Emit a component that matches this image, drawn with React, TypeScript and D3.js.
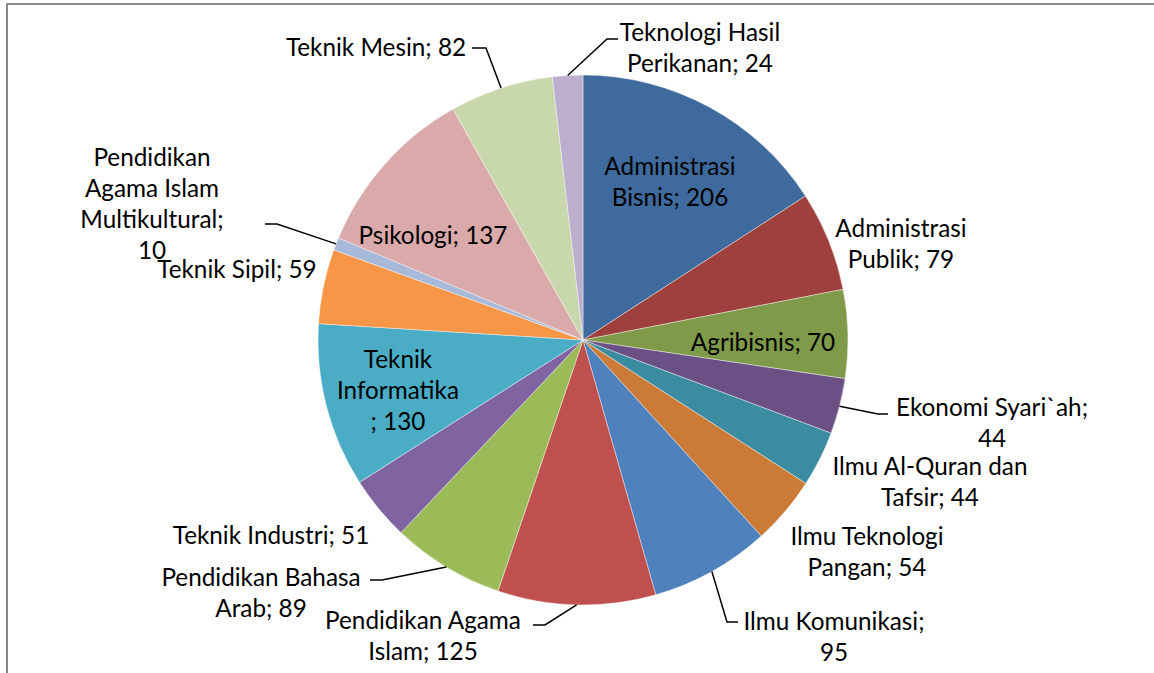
import React from "react";
import * as d3 from "d3";

const categories = [
  "Administrasi Bisnis",
  "Administrasi Publik",
  "Agribisnis",
  "Ekonomi Syari`ah",
  "Ilmu Al-Quran dan Tafsir",
  "Ilmu Teknologi Pangan",
  "Ilmu Komunikasi",
  "Pendidikan Agama Islam",
  "Pendidikan Bahasa Arab",
  "Teknik Industri",
  "Teknik Informatika",
  "Teknik Sipil",
  "Pendidikan Agama Islam Multikultural",
  "Psikologi",
  "Teknik Mesin",
  "Teknologi Hasil Perikanan",
];
const values = [206, 79, 70, 44, 44, 54, 95, 125, 89, 51, 130, 59, 10, 137, 82, 24];

const colors = [
  "#3F6A9D", "#9E413E", "#7F9A48", "#6A5085", "#3B8CA1", "#CC7A37",
  "#4F81BD", "#C0504D", "#9BBB59", "#8064A2", "#4BACC6", "#F79646",
  "#A7B9D9", "#D9AAA9", "#C9D7AC", "#BBAFCD",
];

// label text wrapping as in the reference
const labelLines: string[][] = [
  ["Administrasi", "Bisnis; 206"],
  ["Administrasi", "Publik; 79"],
  ["Agribisnis; 70"],
  ["Ekonomi Syari`ah;", "44"],
  ["Ilmu Al-Quran dan", "Tafsir; 44"],
  ["Ilmu Teknologi", "Pangan; 54"],
  ["Ilmu Komunikasi;", "95"],
  ["Pendidikan Agama", "Islam; 125"],
  ["Pendidikan Bahasa", "Arab; 89"],
  ["Teknik Industri; 51"],
  ["Teknik", "Informatika", "; 130"],
  ["Teknik Sipil; 59"],
  ["Pendidikan", "Agama Islam", "Multikultural;", "10"],
  ["Psikologi; 137"],
  ["Teknik Mesin; 82"],
  ["Teknologi Hasil", "Perikanan; 24"],
];

// layout: label block centers
const labelCenters: [number, number][] = [
  [670, 181], [901, 243], [763, 341], [992, 422], [930, 481], [867, 551],
  [834, 636], [423, 635], [261, 592], [271, 534], [398, 389], [237, 268],
  [152, 203], [433, 234], [376, 46], [700, 47],
];

// layout: leader line bends (from slice edge outward)
const leaders: { [k: number]: [number, number][] } = {
  3: [[878, 414], [888, 414]],
  6: [[727, 622], [738, 622]],
  7: [[545, 625], [533, 625]],
  8: [[382, 580], [370, 580]],
  12: [[277, 224], [265, 224]],
  14: [[486, 48], [472, 48]],
  15: [[607, 39], [618, 39]],
};

const W = 1154;
const H = 673;
const cx = 583;
const cy = 340;
const R = 265;
const fontSize = 24.3;
const lineH = 31;

export default function App() {
  const pie = d3.pie<number>().sort(null).value((d) => d);
  const arcs = pie(values);
  const arc = d3.arc<d3.PieArcDatum<number>>().innerRadius(0).outerRadius(R);

  return (
    <svg
      width={W}
      height={H}
      style={{ position: "absolute", left: 0, top: 0, background: "#fff" }}
      fontFamily="Lato, 'Open Sans', sans-serif"
    >
      <rect x={0} y={0} width={W} height={H} fill="#fff" />
      <rect x={7} y={4} width={W + 20} height={H + 20} fill="none" stroke="#898989" strokeWidth={2} />
      <g transform={`translate(${cx},${cy})`}>
        {arcs.map((a, i) => (
          <path key={i} d={arc(a) || ""} fill={colors[i]} stroke="#ffffff" strokeOpacity={0.5} strokeWidth={0.8} />
        ))}
      </g>
      {arcs.map((a, i) => {
        const pts = leaders[i];
        if (!pts) return null;
        const mid = (a.startAngle + a.endAngle) / 2;
        const sx = cx + R * Math.sin(mid);
        const sy = cy - R * Math.cos(mid);
        const line = d3.line()([[sx, sy], ...pts]);
        return <path key={"l" + i} d={line || ""} fill="none" stroke="#000" strokeWidth={1.5} />;
      })}
      {labelLines.map((lines, i) => {
        const [x, y] = labelCenters[i];
        const y0 = y - ((lines.length - 1) * lineH) / 2;
        return (
          <text key={"t" + i} textAnchor="middle" fontSize={fontSize} fill="#000">
            {lines.map((s, j) => (
              <tspan key={j} x={x} y={y0 + j * lineH} dominantBaseline="central">
                {s}
              </tspan>
            ))}
          </text>
        );
      })}
    </svg>
  );
}
